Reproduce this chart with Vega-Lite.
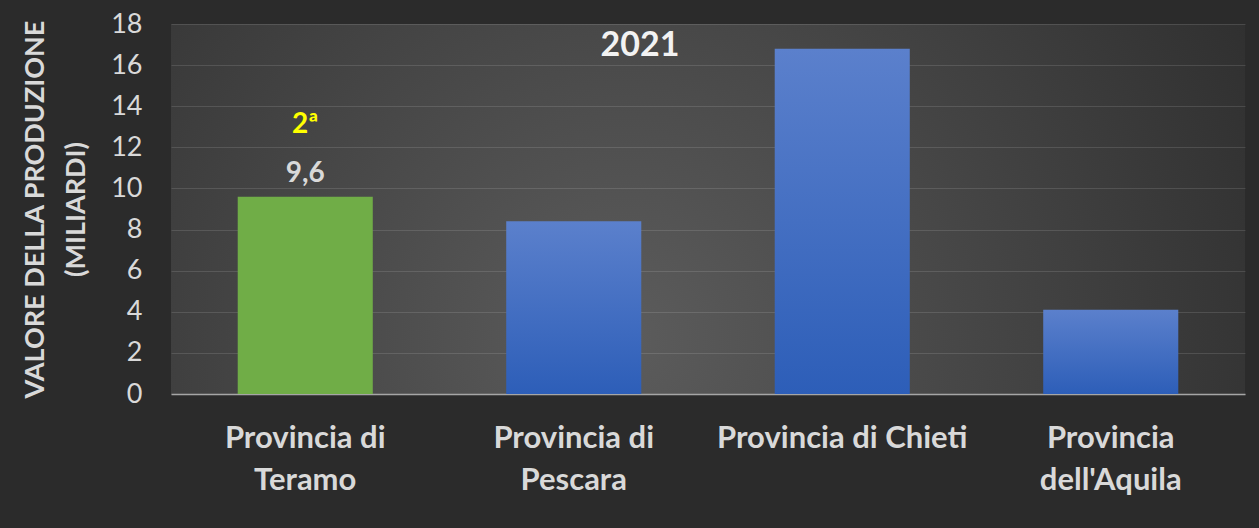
{
  "$schema": "https://vega.github.io/schema/vega-lite/v6.json",
  "autosize": "none",
  "width": 1074,
  "height": 370,
  "padding": {"left": 171, "top": 24, "right": 14, "bottom": 134},
  "background": "#2b2b2b",
  "title": {
    "text": "2021",
    "font": "Lato",
    "fontSize": 34,
    "fontWeight": "bold",
    "color": "#f2f2f2",
    "anchor": "middle",
    "baseline": "alphabetic",
    "offset": -80,
    "dx": -68
  },
  "config": {
    "font": "Lato",
    "view": {
      "stroke": null,
      "fill": {
        "gradient": "radial",
        "x1": 0.42, "y1": 0.62, "r1": 0,
        "x2": 0.42, "y2": 0.62, "r2": 0.8,
        "stops": [
          {"offset": 0, "color": "#5c5c5c"},
          {"offset": 1, "color": "#262626"}
        ]
      }
    },
    "locale": {"number": {"decimal": ",", "thousands": ".", "grouping": [3], "currency": ["€", ""]}}
  },
  "data": {
    "values": [
      {"provincia": "Provincia di Teramo", "valore": 9.6, "posizione": "2ª"},
      {"provincia": "Provincia di Pescara", "valore": 8.4, "posizione": ""},
      {"provincia": "Provincia di Chieti", "valore": 16.8, "posizione": ""},
      {"provincia": "Provincia dell'Aquila", "valore": 4.1, "posizione": ""}
    ]
  },
  "encoding": {
    "x": {
      "field": "provincia",
      "type": "nominal",
      "sort": null,
      "scale": {"paddingInner": 0.497, "paddingOuter": 0.2485},
      "axis": {
        "title": null,
        "labelAngle": 0,
        "labelFont": "Lato",
        "labelFontSize": 31,
        "labelFontWeight": "bold",
        "labelColor": "#d9d9d9",
        "labelPadding": 29,
        "labelLineHeight": 42,
        "labelBaseline": "top",
        "labelLimit": 500,
        "labelExpr": "datum.label == 'Provincia di Chieti' ? datum.label : (indexof(datum.label, 'dell') > 0 ? ['Provincia', substring(datum.label, 10)] : ['Provincia di', substring(datum.label, 13)])",
        "ticks": false,
        "domain": true,
        "domainColor": "#a6a6a6",
        "domainWidth": 1.5,
        "grid": false
      }
    },
    "y": {
      "field": "valore",
      "type": "quantitative",
      "scale": {"domain": [0, 18], "nice": false},
      "axis": {
        "values": [0, 2, 4, 6, 8, 10, 12, 14, 16, 18],
        "title": ["VALORE DELLA PRODUZIONE", "(MILIARDI)"],
        "titleFont": "Lato",
        "titleFontSize": 27,
        "titleFontWeight": "bold",
        "titleColor": "#d9d9d9",
        "titleLineHeight": 41,
        "titlePadding": 20,
        "labelFont": "Lato",
        "labelFontSize": 27,
        "labelColor": "#d9d9d9",
        "labelPadding": 29,
        "ticks": false,
        "domain": false,
        "grid": true,
        "gridColor": "#ffffff",
        "gridOpacity": 0.12,
        "gridWidth": 1.2
      }
    }
  },
  "layer": [
    {
      "mark": {"type": "bar"},
      "encoding": {
        "color": {
          "condition": {"test": "datum.provincia === 'Provincia di Teramo'", "value": "#70ad47"},
          "value": {
            "gradient": "linear",
            "x1": 0, "y1": 0, "x2": 0, "y2": 1,
            "stops": [
              {"offset": 0, "color": "#5b80cc"},
              {"offset": 1, "color": "#2d5eb8"}
            ]
          }
        }
      }
    },
    {
      "transform": [{"filter": "datum.provincia === 'Provincia di Teramo'"}],
      "mark": {"type": "text", "font": "Lato", "fontSize": 28, "fontWeight": "bold", "color": "#d9d9d9", "baseline": "alphabetic", "dy": -15},
      "encoding": {
        "text": {"field": "valore", "type": "quantitative", "format": ".1f"}
      }
    },
    {
      "transform": [{"filter": "datum.posizione != ''"}],
      "mark": {"type": "text", "font": "Lato", "fontSize": 28, "fontWeight": "bold", "color": "#ffff00", "baseline": "alphabetic", "dy": -64},
      "encoding": {
        "text": {"field": "posizione", "type": "nominal"}
      }
    }
  ]
}
